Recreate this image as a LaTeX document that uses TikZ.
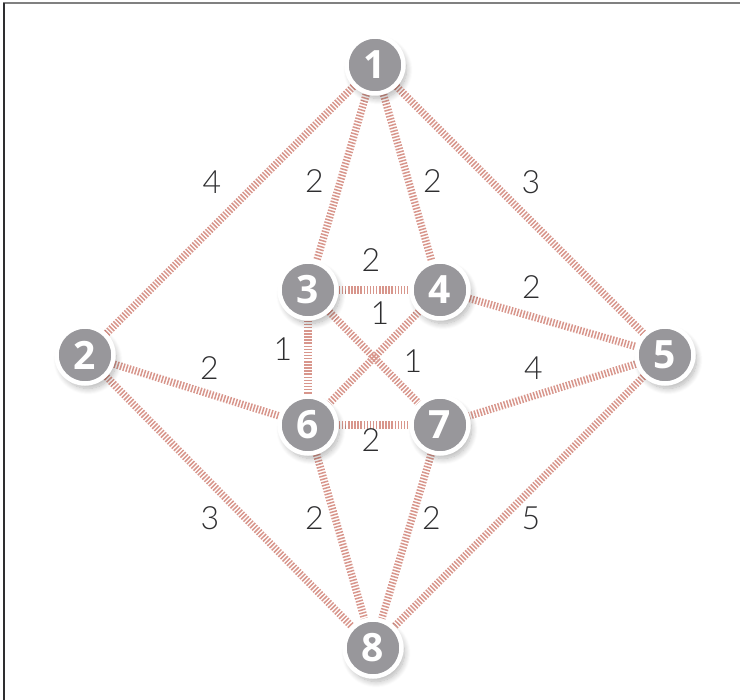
\documentclass[tikz,border=0pt]{standalone}
\usepackage{fontspec}
\setmainfont{Open Sans}
\newfontfamily\lblfont{Lato Light}
\usetikzlibrary{positioning,backgrounds,shadows.blur}
\definecolor{vtxgray}{HTML}{98979B}
\definecolor{tiecol}{HTML}{D8968C}
\definecolor{lblcol}{HTML}{2E2E30}
\pgfsetlayers{background,main}

\begin{document}
\begin{tikzpicture}[x=1pt,y=-1pt,
    vtx/.style={circle, fill=vtxgray, draw=white, line width=4.5pt, minimum size=57pt,
      inner sep=0pt, text=white, font=\bfseries\fontsize{39}{39}\selectfont,
      blur shadow={shadow xshift=3pt, shadow yshift=-5pt, shadow blur steps=12, shadow blur radius=6pt, shadow opacity=30}},
    tie/.style={draw=tiecol, line width=7.5pt, dash pattern=on 1.5pt off 1.6pt},
    wt/.style={text=lblcol, font=\lblfont\fontsize{32}{32}\selectfont, inner sep=0pt}]
  \useasboundingbox (0,0) rectangle (740,700);
  \draw[gray, line width=1.5pt] (3,3) -- (740,3);
  \draw[lblcol, line width=1.5pt] (4,3) -- (4,700);

  \node[vtx] (v1) at (375,65)  {1};
  \node[vtx] (v2) at (85,355)  {2};
  \node[vtx] (v3) at (308,290) {3};
  \node[vtx] (v4) at (440,290) {4};
  \node[vtx] (v5) at (665,355) {5};
  \node[vtx] (v6) at (308,425) {6};
  \node[vtx] (v7) at (440,425) {7};
  \node[vtx] (v8) at (373,648) {8};

  \begin{pgfonlayer}{background}
    \draw[tie] (v1) -- node[wt, shift={(-18,-28)}]{4} (v2);
    \draw[tie] (v1) -- node[wt, shift={(-27,4)}]{2} (v3);
    \draw[tie] (v1) -- node[wt, shift={(25,4)}]{2} (v4);
    \draw[tie] (v1) -- node[wt, shift={(11,-28)}]{3} (v5);
    \draw[tie] (v3) -- node[wt, shift={(-3,-30)}]{2} (v4);
    \draw[tie] (v4) -- node[wt, shift={(-21,-35)}]{2} (v5);
    \draw[tie] (v3) -- node[wt, shift={(39,4)}]{1} (v7);
    \draw[tie] (v4) -- node[wt, shift={(6,-44)}]{1} (v6);
    \draw[tie] (v3) -- node[wt, shift={(-25,-8)}]{1} (v6);
    \draw[tie] (v2) -- node[wt, shift={(13,-22)}]{2} (v6);
    \draw[tie] (v5) -- node[wt, shift={(-19,-22)}]{4} (v7);
    \draw[tie] (v6) -- node[wt, shift={(-3,15)}]{2} (v7);
    \draw[tie] (v2) -- node[wt, shift={(-19,17)}]{3} (v8);
    \draw[tie] (v6) -- node[wt, shift={(-26,-18)}]{2} (v8);
    \draw[tie] (v7) -- node[wt, shift={(25,-18)}]{2} (v8);
    \draw[tie] (v5) -- node[wt, shift={(12,17)}]{5} (v8);
  \end{pgfonlayer}
\end{tikzpicture}
\end{document}
